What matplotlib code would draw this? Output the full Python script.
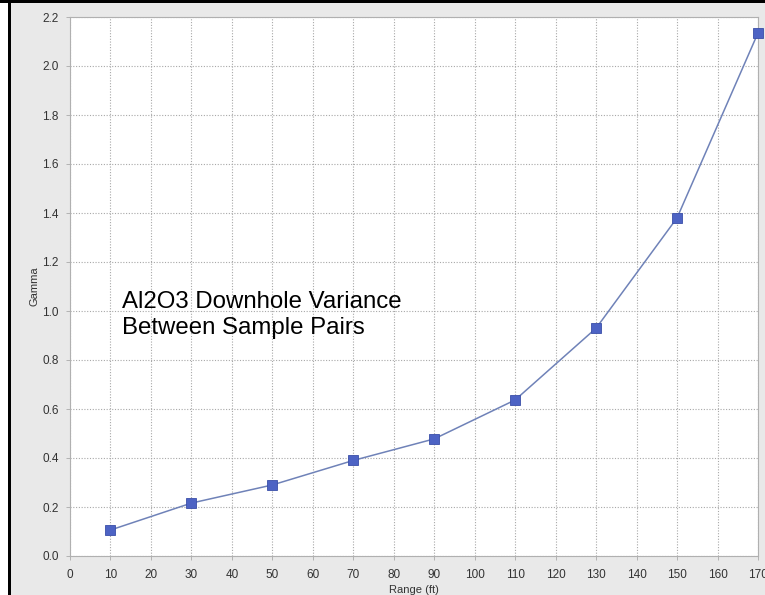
import matplotlib
matplotlib.use("Agg")
import matplotlib.pyplot as plt
from matplotlib.patches import Rectangle

plt.rcParams['font.family'] = ['Liberation Sans', 'DejaVu Sans']

range_ft = [10, 30, 50, 70, 90, 110, 130, 150, 170]
gamma = [0.106, 0.216, 0.290, 0.390, 0.478, 0.637, 0.930, 1.380, 2.135]
x_ticks = list(range(0, 171, 10))
y_ticks = [0.0, 0.2, 0.4, 0.6, 0.8, 1.0, 1.2, 1.4, 1.6, 1.8, 2.0, 2.2]

W, H = 765, 595
fig = plt.figure(figsize=(W / 100, H / 100), dpi=100)
fig.patch.set_facecolor('white')

# background layer: gray panel and black frame lines
bg = fig.add_axes([0, 0, 1, 1], zorder=-10)
bg.set_axis_off()
bg.set_xlim(0, W)
bg.set_ylim(H, 0)
bg.add_patch(Rectangle((11, 3), W - 11, H - 3, facecolor='#e9e9e9', edgecolor='none'))
bg.add_patch(Rectangle((0, 0), W, 3, facecolor='black', edgecolor='none'))
bg.add_patch(Rectangle((8, 0), 3, H, facecolor='black', edgecolor='none'))

ax = fig.add_axes([70 / W, 1 - 556 / H, (758 - 70) / W, (556 - 17) / H], zorder=1)
ax.set_facecolor('white')
ax.plot(range_ft, gamma, color='#6f82b8', linewidth=1.1, marker='s', markersize=6.5,
        markerfacecolor='#4d63c4', markeredgecolor='#3a4ea8', markeredgewidth=0.6,
        clip_on=False, zorder=3)

ax.set_xlim(0, 170)
ax.set_ylim(0, 2.2)
ax.set_xticks(x_ticks)
ax.set_yticks(y_ticks)
ax.set_yticklabels([f"{v:.1f}" for v in y_ticks])
ax.grid(True, color='#a8a8a8', linestyle=(0, (1, 1.5)), linewidth=0.8)
ax.set_axisbelow(True)
ax.tick_params(axis='both', labelsize=8.5, colors='#333333', length=3, width=0.6,
               color='#aaaaaa')
ax.tick_params(axis='x', pad=6)
ax.tick_params(axis='y', pad=5)
for s in ax.spines.values():
    s.set_color('#b0b0b0')
    s.set_linewidth(0.8)

ax.set_xlabel('Range (ft)', fontsize=8, color='#333333', labelpad=3)
ax.set_ylabel('Gamma', fontsize=8, color='#333333', labelpad=2)

ax.text(122 / W, 1 - 315 / H, 'Al2O3 Downhole Variance\nBetween Sample Pairs',
        transform=fig.transFigure, fontsize=17.3, color='black', va='center', ha='left',
        linespacing=1.2)

fig.savefig('out.png', dpi=100)
